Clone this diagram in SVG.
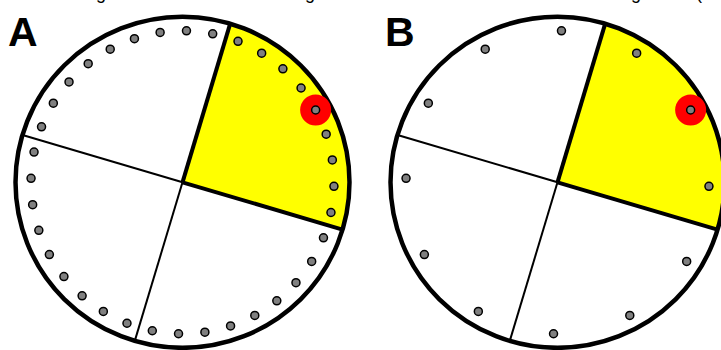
<svg xmlns="http://www.w3.org/2000/svg" xmlns:xlink="http://www.w3.org/1999/xlink" width="721" height="350" viewBox="0 0 721 350">
<style>
.bg{fill:#ffffff;stroke:none}
.rim{fill:none;stroke:#000;stroke-width:4.5}
.sector{fill:#ffff00;stroke:none}
.thin{stroke:#000;stroke-width:2;fill:none}
.thick{stroke:#000;stroke-width:4;fill:none;stroke-linecap:butt}
.dot{fill:#808080;stroke:#000;stroke-width:1.5}
.hl{fill:#ff0000;stroke:none}
.lbl{font-family:"Liberation Sans",Arial,sans-serif;font-weight:bold;font-size:41px;fill:#000}
.frag{font-family:"Liberation Sans",Arial,sans-serif;font-size:18px;fill:#000}
</style>
<defs>
<g id="disc">
<ellipse class="bg" cx="0" cy="0" rx="167" ry="165.5"/>
<path class="sector" d="M0,0 L47.7,-158.6 A167,165.5 0 0 1 160,47.3 Z"/>
</g>
<g id="spokes">
<line class="thin" x1="0" y1="0" x2="-160" y2="-47.3"/>
<line class="thin" x1="0" y1="0" x2="-47.7" y2="158.6"/>
<line class="thick" x1="0" y1="0" x2="47.7" y2="-158.6"/>
<line class="thick" x1="0" y1="0" x2="160" y2="47.3"/>
</g>
</defs>
<g id="fragments">
<text class="frag" x="96" y="-1.5">g</text>
<text class="frag" x="305" y="-1.5">g</text>
<text class="frag" x="631" y="-1.5">g</text>
<text class="frag" x="696" y="-1.5">(</text>
</g>
<g id="panelA" transform="translate(182.5,182.3)">
<use xlink:href="#disc"/>
<g id="connectorsA"><use xlink:href="#spokes"/></g>
<ellipse class="rim" cx="0" cy="0" rx="167" ry="165.5"/>
<circle class="hl" cx="133.14" cy="-72.29" r="15.5"/>
<g id="dotsA">
<circle class="dot" r="4" cx="151.45" cy="3.97"/>
<circle class="dot" r="4" cx="148.46" cy="30.20"/>
<circle class="dot" r="4" cx="140.96" cy="55.52"/>
<circle class="dot" r="4" cx="129.17" cy="79.16"/>
<circle class="dot" r="4" cx="113.47" cy="100.39"/>
<circle class="dot" r="4" cx="94.31" cy="118.57"/>
<circle class="dot" r="4" cx="72.29" cy="133.14"/>
<circle class="dot" r="4" cx="48.07" cy="143.67"/>
<circle class="dot" r="4" cx="22.39" cy="149.84"/>
<circle class="dot" r="4" cx="-3.97" cy="151.45"/>
<circle class="dot" r="4" cx="-30.20" cy="148.46"/>
<circle class="dot" r="4" cx="-55.52" cy="140.96"/>
<circle class="dot" r="4" cx="-79.16" cy="129.17"/>
<circle class="dot" r="4" cx="-100.39" cy="113.47"/>
<circle class="dot" r="4" cx="-118.57" cy="94.31"/>
<circle class="dot" r="4" cx="-133.14" cy="72.29"/>
<circle class="dot" r="4" cx="-143.67" cy="48.07"/>
<circle class="dot" r="4" cx="-149.84" cy="22.39"/>
<circle class="dot" r="4" cx="-151.45" cy="-3.97"/>
<circle class="dot" r="4" cx="-148.46" cy="-30.20"/>
<circle class="dot" r="4" cx="-140.96" cy="-55.52"/>
<circle class="dot" r="4" cx="-129.17" cy="-79.16"/>
<circle class="dot" r="4" cx="-113.47" cy="-100.39"/>
<circle class="dot" r="4" cx="-94.31" cy="-118.57"/>
<circle class="dot" r="4" cx="-72.29" cy="-133.14"/>
<circle class="dot" r="4" cx="-48.07" cy="-143.67"/>
<circle class="dot" r="4" cx="-22.39" cy="-149.84"/>
<circle class="dot" r="4" cx="3.97" cy="-151.45"/>
<circle class="dot" r="4" cx="30.20" cy="-148.46"/>
<circle class="dot" r="4" cx="55.52" cy="-140.96"/>
<circle class="dot" r="4" cx="79.16" cy="-129.17"/>
<circle class="dot" r="4" cx="100.39" cy="-113.47"/>
<circle class="dot" r="4" cx="118.57" cy="-94.31"/>
<circle class="dot" r="4" cx="133.14" cy="-72.29"/>
<circle class="dot" r="4" cx="143.67" cy="-48.07"/>
<circle class="dot" r="4" cx="149.84" cy="-22.39"/>
</g>
</g>
<g id="panelB" transform="translate(557.5,182.3)">
<use xlink:href="#disc"/>
<g id="connectorsB"><use xlink:href="#spokes"/></g>
<ellipse class="rim" cx="0" cy="0" rx="167" ry="165.5"/>
<circle class="hl" cx="133.14" cy="-72.29" r="15.5"/>
<g id="dotsB">
<circle class="dot" r="4" cx="151.45" cy="3.97"/>
<circle class="dot" r="4" cx="129.17" cy="79.16"/>
<circle class="dot" r="4" cx="72.29" cy="133.14"/>
<circle class="dot" r="4" cx="-3.97" cy="151.45"/>
<circle class="dot" r="4" cx="-79.16" cy="129.17"/>
<circle class="dot" r="4" cx="-133.14" cy="72.29"/>
<circle class="dot" r="4" cx="-151.45" cy="-3.97"/>
<circle class="dot" r="4" cx="-129.17" cy="-79.16"/>
<circle class="dot" r="4" cx="-72.29" cy="-133.14"/>
<circle class="dot" r="4" cx="3.97" cy="-151.45"/>
<circle class="dot" r="4" cx="79.16" cy="-129.17"/>
<circle class="dot" r="4" cx="133.14" cy="-72.29"/>
</g>
</g>
<g id="labelA"><text class="lbl" x="8" y="46">A</text></g>
<g id="labelB"><text class="lbl" x="385" y="46">B</text></g>
</svg>
